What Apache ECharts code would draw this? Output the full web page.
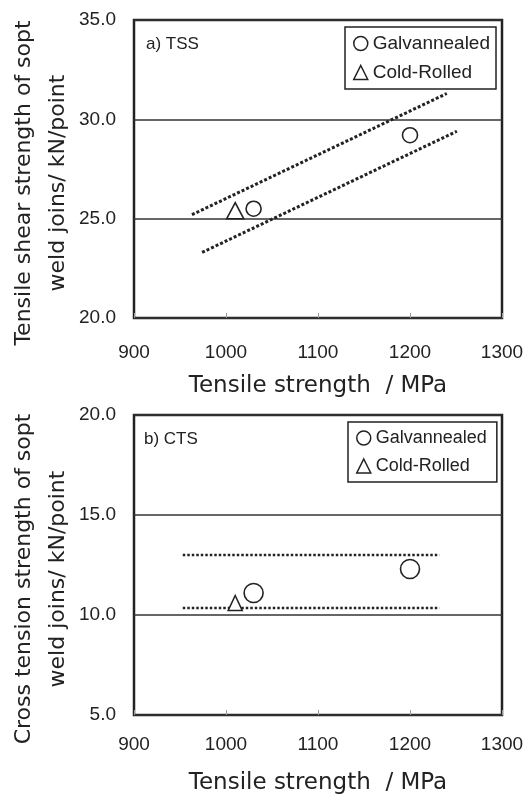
<!DOCTYPE html>
<html>
<head>
<meta charset="utf-8">
<script src="https://cdn.jsdelivr.net/npm/echarts@6/dist/echarts.min.js"></script>
<style>
  html, body { margin: 0; padding: 0; background: #fff; }
  #main { width: 531px; height: 795px; }
</style>
</head>
<body>
<div id="main"></div>
<script>
// a) TSS
const tssGalv = [[1030, 25.5], [1200, 29.2]];
const tssCold = [[1010, 25.4]];
const tssUpper = [[963, 25.2], [1240, 31.3]];
const tssLower = [[974, 23.3], [1251, 29.4]];
// b) CTS
const ctsGalv = [[1030, 11.1], [1200, 12.3]];
const ctsCold = [[1010, 10.6]];
const ctsUpper = [[953, 13.0], [1232, 13.0]];
const ctsLower = [[953, 10.35], [1232, 10.35]];

const xRange = [900, 1300];
const tssRange = [20, 35];
const ctsRange = [5, 20];

const FONT = 'Liberation Sans';
const TITLE_FONT = 'DejaVu Sans';
const INK = '#222';

var myChart = echarts.init(document.getElementById('main'));

function xAxisOf(gridIndex, labelMargin, nameGap) {
  return {
    gridIndex: gridIndex,
    type: 'value',
    min: xRange[0], max: xRange[1], interval: 100,
    axisLine: { show: false },
    axisTick: { show: true, inside: true, length: 5, lineStyle: { color: '#999' } },
    splitLine: { show: false },
    axisLabel: { margin: labelMargin, fontSize: 19, color: INK, fontFamily: FONT,
      formatter: function (v) { return String(v); } },
    name: 'Tensile strength  / MPa',
    nameLocation: 'middle',
    nameGap: nameGap,
    nameMoveOverlap: false,
    nameTextStyle: { fontSize: 23, color: INK, fontFamily: TITLE_FONT }
  };
}

function yAxisOf(gridIndex, range, title) {
  return {
    gridIndex: gridIndex,
    type: 'value',
    min: range[0], max: range[1], interval: 5,
    axisLine: { show: false },
    axisTick: { show: false },
    splitLine: { show: true, lineStyle: { color: '#333', width: 1.5 } },
    axisLabel: { margin: 18, fontSize: 19, color: INK, fontFamily: FONT,
      formatter: function (v) { return v.toFixed(1); } },
    name: title,
    nameLocation: 'middle',
    nameGap: 59,
    nameRotate: 90,
    nameMoveOverlap: false,
    nameTextStyle: { fontSize: 22, lineHeight: 34, color: INK, fontFamily: TITLE_FONT,
      padding: [0, 28, 0, 0] }
  };
}

function legendOf(left, top, fontSize, padRight) {
  return {
    orient: 'vertical',
    left: left, top: top,
    padding: [7, padRight, 7, 8],
    itemGap: 10,
    itemWidth: 14, itemHeight: 14,
    borderColor: INK, borderWidth: 1.5,
    selectedMode: false,
    textStyle: { fontSize: fontSize, color: INK, fontFamily: FONT },
    data: [
      { name: 'Galvannealed', icon: 'circle',
        itemStyle: { color: '#fff', borderColor: INK, borderWidth: 1.5 } },
      { name: 'Cold-Rolled', icon: 'triangle',
        itemStyle: { color: '#fff', borderColor: INK, borderWidth: 1.5 } }
    ]
  };
}

function markSeries(name, data, symbol, size, idx) {
  return {
    name: name, type: 'scatter', data: data,
    xAxisIndex: idx, yAxisIndex: idx,
    symbol: symbol, symbolSize: size,
    itemStyle: { color: '#fff', borderColor: INK, borderWidth: 1.6, opacity: 1 },
    z: 5
  };
}

function bandSeries(data, dash, width, idx) {
  return {
    type: 'line', data: data,
    xAxisIndex: idx, yAxisIndex: idx,
    showSymbol: false, symbol: 'none',
    lineStyle: { color: INK, width: width, type: dash },
    silent: true, z: 3
  };
}

var option = {
  animation: false,
  backgroundColor: '#fff',
  title: [
    { text: 'a) TSS', left: 141, top: 31,
      textStyle: { fontSize: 17, fontWeight: 'normal', color: INK, fontFamily: FONT } },
    { text: 'b) CTS', left: 139, top: 426,
      textStyle: { fontSize: 17, fontWeight: 'normal', color: INK, fontFamily: FONT } }
  ],
  legend: [legendOf(345, 27, 19, 6), legendOf(348, 422, 18, 10)],
  grid: [
    { left: 134, top: 20, width: 368, height: 298, show: true, outerBoundsMode: 'none',
      borderColor: INK, borderWidth: 2.5, backgroundColor: 'transparent' },
    { left: 134, top: 415, width: 368, height: 300, show: true, outerBoundsMode: 'none',
      borderColor: INK, borderWidth: 2.5, backgroundColor: 'transparent' }
  ],
  xAxis: [xAxisOf(0, 25, 57), xAxisOf(1, 20, 57)],
  yAxis: [
    yAxisOf(0, tssRange, 'Tensile shear strength of sopt\nweld joins/ kN/point'),
    yAxisOf(1, ctsRange, 'Cross tension strength of sopt\nweld joins/ kN/point')
  ],
  series: [
    bandSeries(tssUpper, [3, 2], 3, 0),
    bandSeries(tssLower, [3, 2], 3, 0),
    markSeries('Galvannealed', tssGalv, 'circle', 15, 0),
    markSeries('Cold-Rolled', tssCold, 'triangle', [17, 16], 0),
    bandSeries(ctsUpper, [2.5, 2], 2.5, 1),
    bandSeries(ctsLower, [2.5, 2], 2.5, 1),
    markSeries('Galvannealed', ctsGalv, 'circle', 19, 1),
    markSeries('Cold-Rolled', ctsCold, 'triangle', [14, 15], 1)
  ]
};
myChart.setOption(option);
</script>
</body>
</html>
